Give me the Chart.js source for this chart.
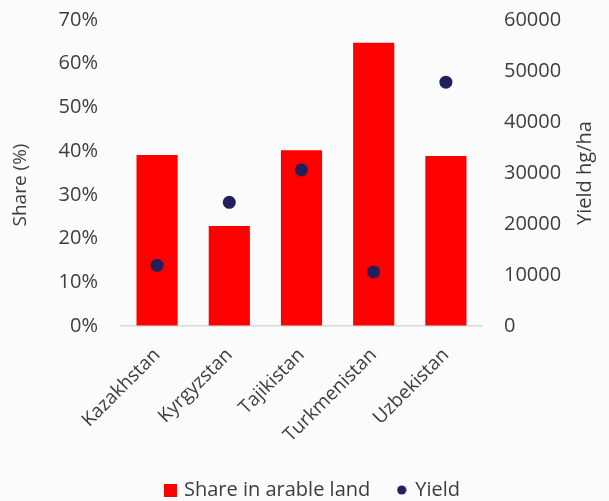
<!DOCTYPE html>
<html>
<head>
<meta charset="utf-8">
<script src="https://cdn.jsdelivr.net/npm/chart.js@4/dist/chart.umd.min.js"></script>
<style>
  html, body { margin: 0; padding: 0; background: #fbfbfb; }
  #wrap { width: 609px; height: 501px; position: relative; }
</style>
</head>
<body>
<div id="wrap"><canvas id="c" width="609" height="501"></canvas></div>
<script>
const categories = ["Kazakhstan", "Kyrgyzstan", "Tajikistan", "Turkmenistan", "Uzbekistan"];
const shareArable = [39.1, 22.9, 40.2, 64.8, 38.9];   // %
const yieldHgHa = [11900, 24250, 30600, 10600, 47800]; // hg/ha
const shareTicks = [0, 10, 20, 30, 40, 50, 60, 70];
const yieldTicks = [0, 10000, 20000, 30000, 40000, 50000, 60000];

const TEXT = '#3d3d3d';
const FONT = "'Open Sans', 'Noto Sans', sans-serif";

function makeSwatch(kind, color) {
  const cv = document.createElement('canvas');
  if (kind === 'rect') {
    cv.width = 13; cv.height = 13;
    const g = cv.getContext('2d');
    g.fillStyle = color; g.fillRect(0, 0, 13, 13);
  } else {
    cv.width = 10; cv.height = 10;
    const g = cv.getContext('2d');
    g.fillStyle = color; g.beginPath(); g.arc(5, 5, 4.6, 0, Math.PI * 2); g.fill();
  }
  return cv;
}
const redSwatch = makeSwatch('rect', '#ff0000');
const dotSwatch = makeSwatch('circle', '#20205c');

const axisTitles = {
  id: 'axisTitles',
  afterDraw(chart) {
    const ctx = chart.ctx;
    ctx.save();
    ctx.fillStyle = TEXT;
    ctx.font = "19px " + FONT;
    ctx.textAlign = 'center';
    ctx.textBaseline = 'middle';
    ctx.translate(21, 185);
    ctx.rotate(-Math.PI / 2);
    ctx.fillText('Share (%)', 0, 0);
    ctx.restore();
    ctx.save();
    ctx.fillStyle = TEXT;
    ctx.font = "20px " + FONT;
    ctx.textAlign = 'center';
    ctx.textBaseline = 'middle';
    ctx.translate(585, 173);
    ctx.rotate(-Math.PI / 2);
    ctx.fillText('Yield hg/ha', 0, 0);
    ctx.restore();
  }
};

const hiddenGrid = (len) => ({
  display: true, drawOnChartArea: false, drawTicks: true,
  tickLength: len, color: 'rgba(0,0,0,0)'
});

new Chart(document.getElementById('c'), {
  data: {
    labels: categories,
    datasets: [
      {
        type: 'line',
        label: 'Yield',
        data: yieldHgHa,
        yAxisID: 'y1',
        showLine: false,
        pointStyle: 'circle',
        pointRadius: 6.5,
        pointHoverRadius: 6.5,
        pointBackgroundColor: '#20205c',
        pointBorderWidth: 0,
        borderColor: '#20205c',
        backgroundColor: '#20205c',
        order: 0
      },
      {
        type: 'bar',
        label: 'Share in arable land',
        data: shareArable,
        yAxisID: 'y',
        backgroundColor: '#ff0000',
        borderWidth: 0,
        barPercentage: 0.57,
        categoryPercentage: 1.0,
        order: 1
      }
    ]
  },
  options: {
    responsive: false,
    animation: false,
    layout: { padding: { top: 20, left: 18, right: 0, bottom: -9 } },
    plugins: {
      tooltip: { enabled: false },
      legend: {
        position: 'bottom',
        reverse: true,
        labels: {
          usePointStyle: true,
          boxWidth: 7,
          boxHeight: 13,
          padding: 28,
          color: TEXT,
          font: { family: FONT, size: 20 },
          generateLabels(chart) {
            const items = Chart.defaults.plugins.legend.labels.generateLabels(chart);
            items.forEach(it => {
              it.pointStyle = chart.data.datasets[it.datasetIndex].label === 'Yield' ? dotSwatch : redSwatch;
            });
            return items;
          }
        }
      }
    },
    scales: {
      x: {
        grid: hiddenGrid(18),
        border: { display: true, color: '#d9d9d9', width: 1.5 },
        ticks: {
          color: TEXT,
          font: { family: FONT, size: 19 },
          minRotation: 45,
          maxRotation: 45,
          padding: 0
        },
        afterFit(scale) { scale.height = 126; }
      },
      y: {
        position: 'left',
        min: 0,
        max: 70,
        grid: hiddenGrid(23),
        border: { display: false },
        afterBuildTicks(scale) { scale.ticks = shareTicks.map(v => ({ value: v })); },
        ticks: {
          color: TEXT,
          font: { family: FONT, size: 20 },
          padding: 0,
          callback: v => v + '%'
        },
        afterFit(scale) { scale.width = 103; }
      },
      y1: {
        position: 'right',
        min: 0,
        max: 60000,
        grid: hiddenGrid(22),
        border: { display: false },
        afterBuildTicks(scale) { scale.ticks = yieldTicks.map(v => ({ value: v })); },
        ticks: {
          color: TEXT,
          font: { family: FONT, size: 20 },
          padding: 0,
          callback: v => String(v)
        },
        afterFit(scale) { scale.width = 127; }
      }
    }
  },
  plugins: [axisTitles]
});
</script>
</body>
</html>
